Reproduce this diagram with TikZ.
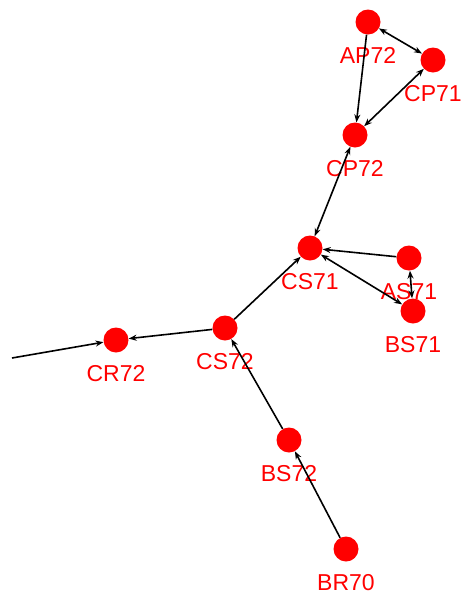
\documentclass[tikz,border=0pt]{standalone}
\usepackage{fontspec}
\setmainfont{Liberation Sans}
\usepackage{tikz}
\usetikzlibrary{arrows.meta,positioning}

\begin{document}
\begin{tikzpicture}[x=1pt, y=-1pt,
    >={Stealth[length=8pt, width=6pt]},
    state/.style={circle, fill=red, minimum size=25pt, inner sep=0pt},
    tag/.style={text=red, inner sep=0pt, font=\fontsize{23}{26}\selectfont},
    label distance=13pt,
    edge/.style={line width=1.6pt, black}]
    \useasboundingbox (0,0) rectangle (466,598);

    % Nodes
    \node [state, label={[tag]below:AP72}] (ap72) at (368,22) {};
    \node [state, label={[tag]below:CP71}] (cp71) at (433,60) {};
    \node [state, label={[tag]below:CP72}] (cp72) at (355,135) {};
    \node [state, label={[tag]below:CS71}] (cs71) at (310,248) {};
    \node [state, label={[tag]below:AS71}] (as71) at (409,258) {};
    \node [state, label={[tag]below:BS71}] (bs71) at (413,311) {};
    \node [state, label={[tag]below:CS72}] (cs72) at (225,328) {};
    \node [state, label={[tag]below:CR72}] (cr72) at (116,340) {};
    \node [state, label={[tag]below:BS72}] (bs72) at (289,440) {};
    \node [state, label={[tag]below:BR70}] (br70) at (346,549) {};
    \coordinate (inflow) at (12,358);

    % Path
    \draw [edge, ->] (inflow) -- (cr72);
    \draw [edge, ->] (cs72) -- (cr72);
    \draw [edge, ->] (cs72) -- (cs71);
    \draw [edge, ->] (bs72) -- (cs72);
    \draw [edge, ->] (br70) -- (bs72);
    \draw [edge, <->] (cp72) -- (cs71);
    \draw [edge, ->] (ap72) -- (cp72);
    \draw [edge, <->] (cp71) -- (cp72);
    \draw [edge, <->] (ap72) -- (cp71);
    \draw [edge, ->] (as71) -- (cs71);
    \draw [edge, <->] (cs71) -- (bs71);
    \draw [edge, <->] (as71) -- (bs71);
\end{tikzpicture}
\end{document}
